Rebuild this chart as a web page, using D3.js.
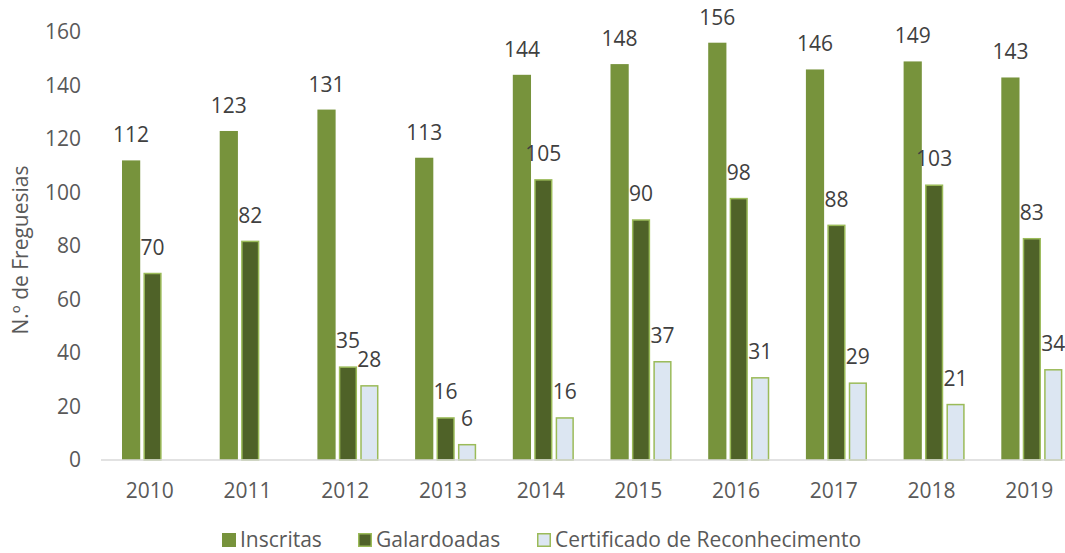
<!DOCTYPE html>
<html>
<head>
<meta charset="utf-8">
<script src="https://d3js.org/d3.v7.min.js"></script>
<style>
  body { margin: 0; background: #fff; overflow: hidden; }
  text { font-family: "Open Sans", sans-serif; }
</style>
</head>
<body>
<div id="chart"></div>
<script>
// data
var years = ["2010","2011","2012","2013","2014","2015","2016","2017","2018","2019"];
var seriesNames = ["Inscritas", "Galardoadas", "Certificado de Reconhecimento"];
var inscritas   = [112, 123, 131, 113, 144, 148, 156, 146, 149, 143];
var galardoadas = [70, 82, 35, 16, 105, 90, 98, 88, 103, 83];
var certificado = [null, null, 28, 6, 16, 37, 31, 29, 21, 34];
var yTicks = [0, 20, 40, 60, 80, 100, 120, 140, 160];

var W = 1065, H = 553;
var fills   = ["#77933C", "#4F6228", "#DCE6F2"];
var strokes = ["none", "#9BBB59", "#9BBB59"];
var fs = "21px";

var svg = d3.select("#chart").append("svg")
    .attr("width", W)
    .attr("height", H)
    .style("display", "block");

// scales
var x = d3.scaleBand().domain(years).range([101, 1078]);
var x1 = d3.scaleBand().domain(seriesNames)
    .range([x.bandwidth() * 0.215, x.bandwidth() * 0.84])
    .paddingInner(0.15);
var y = d3.scaleLinear().domain([0, 160]).range([460, 32]);

// y tick labels (no axis line)
svg.append("g").selectAll("text")
  .data(yTicks)
  .enter().append("text")
    .attr("x", 81)
    .attr("y", function(d) { return y(d); })
    .attr("dy", "0.35em")
    .attr("text-anchor", "end")
    .attr("fill", "#595959")
    .style("font-size", fs)
    .text(function(d) { return d; });

// y title
svg.append("text")
    .attr("transform", "translate(21,250) rotate(-90)")
    .attr("text-anchor", "middle")
    .attr("dy", "0.35em")
    .attr("fill", "#595959")
    .style("font-size", fs)
    .text("N.º de Freguesias");

// bars
var rows = years.map(function(yr, i) {
  return { year: yr, vals: [inscritas[i], galardoadas[i], certificado[i]] };
});
function cells(d) {
  return d.vals.map(function(v, k) { return { k: k, v: v }; })
    .filter(function(e) { return e.v != null; });
}

var groups = svg.append("g").selectAll("g")
  .data(rows)
  .enter().append("g")
    .attr("transform", function(d) { return "translate(" + x(d.year) + ",0)"; });

groups.selectAll("rect")
  .data(cells)
  .enter().append("rect")
    .attr("x", function(d) { return x1(seriesNames[d.k]) + (d.k ? 0.75 : 0); })
    .attr("y", function(d) { return y(d.v) + (d.k ? 0.75 : 0); })
    .attr("width", function(d) { return x1.bandwidth() - (d.k ? 1.5 : 0); })
    .attr("height", function(d) { return y(0) - y(d.v) - (d.k ? 0.75 : 0); })
    .attr("fill", function(d) { return fills[d.k]; })
    .attr("stroke", function(d) { return strokes[d.k]; })
    .attr("stroke-width", 1.5);

groups.selectAll("text")
  .data(cells)
  .enter().append("text")
    .attr("x", function(d) { return x1(seriesNames[d.k]) + x1.bandwidth() / 2; })
    .attr("y", function(d) { return y(d.v) - 18; })
    .attr("text-anchor", "middle")
    .attr("fill", "#404040")
    .style("font-size", fs)
    .text(function(d) { return d.v; });

// x axis line
svg.append("line")
    .attr("x1", 101).attr("x2", W)
    .attr("y1", y(0)).attr("y2", y(0))
    .attr("stroke", "#D9D9D9")
    .attr("stroke-width", 1.5);

// x tick labels
svg.append("g").selectAll("text")
  .data(years)
  .enter().append("text")
    .attr("x", function(d) { return x(d) + x.bandwidth() / 2; })
    .attr("y", 491)
    .attr("dy", "0.35em")
    .attr("text-anchor", "middle")
    .attr("fill", "#595959")
    .style("font-size", fs)
    .text(function(d) { return d; });

// legend (nudged up a little so the text box stays inside the frame)
var legX = [222, 358, 537];
var leg = svg.append("g").selectAll("g")
  .data(seriesNames)
  .enter().append("g")
    .attr("transform", function(d, i) { return "translate(" + legX[i] + ",533)"; });
leg.append("rect")
    .attr("x", function(d, i) { return i ? 0.75 : 0; })
    .attr("y", function(d, i) { return i ? 0.75 : 0; })
    .attr("width", function(d, i) { return i ? 12.5 : 14; })
    .attr("height", function(d, i) { return i ? 12.5 : 14; })
    .attr("fill", function(d, i) { return fills[i]; })
    .attr("stroke", function(d, i) { return strokes[i]; })
    .attr("stroke-width", 1.5);
leg.append("text")
    .attr("x", 18)
    .attr("y", 7)
    .attr("dy", "0.35em")
    .attr("fill", "#595959")
    .style("font-size", fs)
    .text(function(d) { return d; });
</script>
</body>
</html>
